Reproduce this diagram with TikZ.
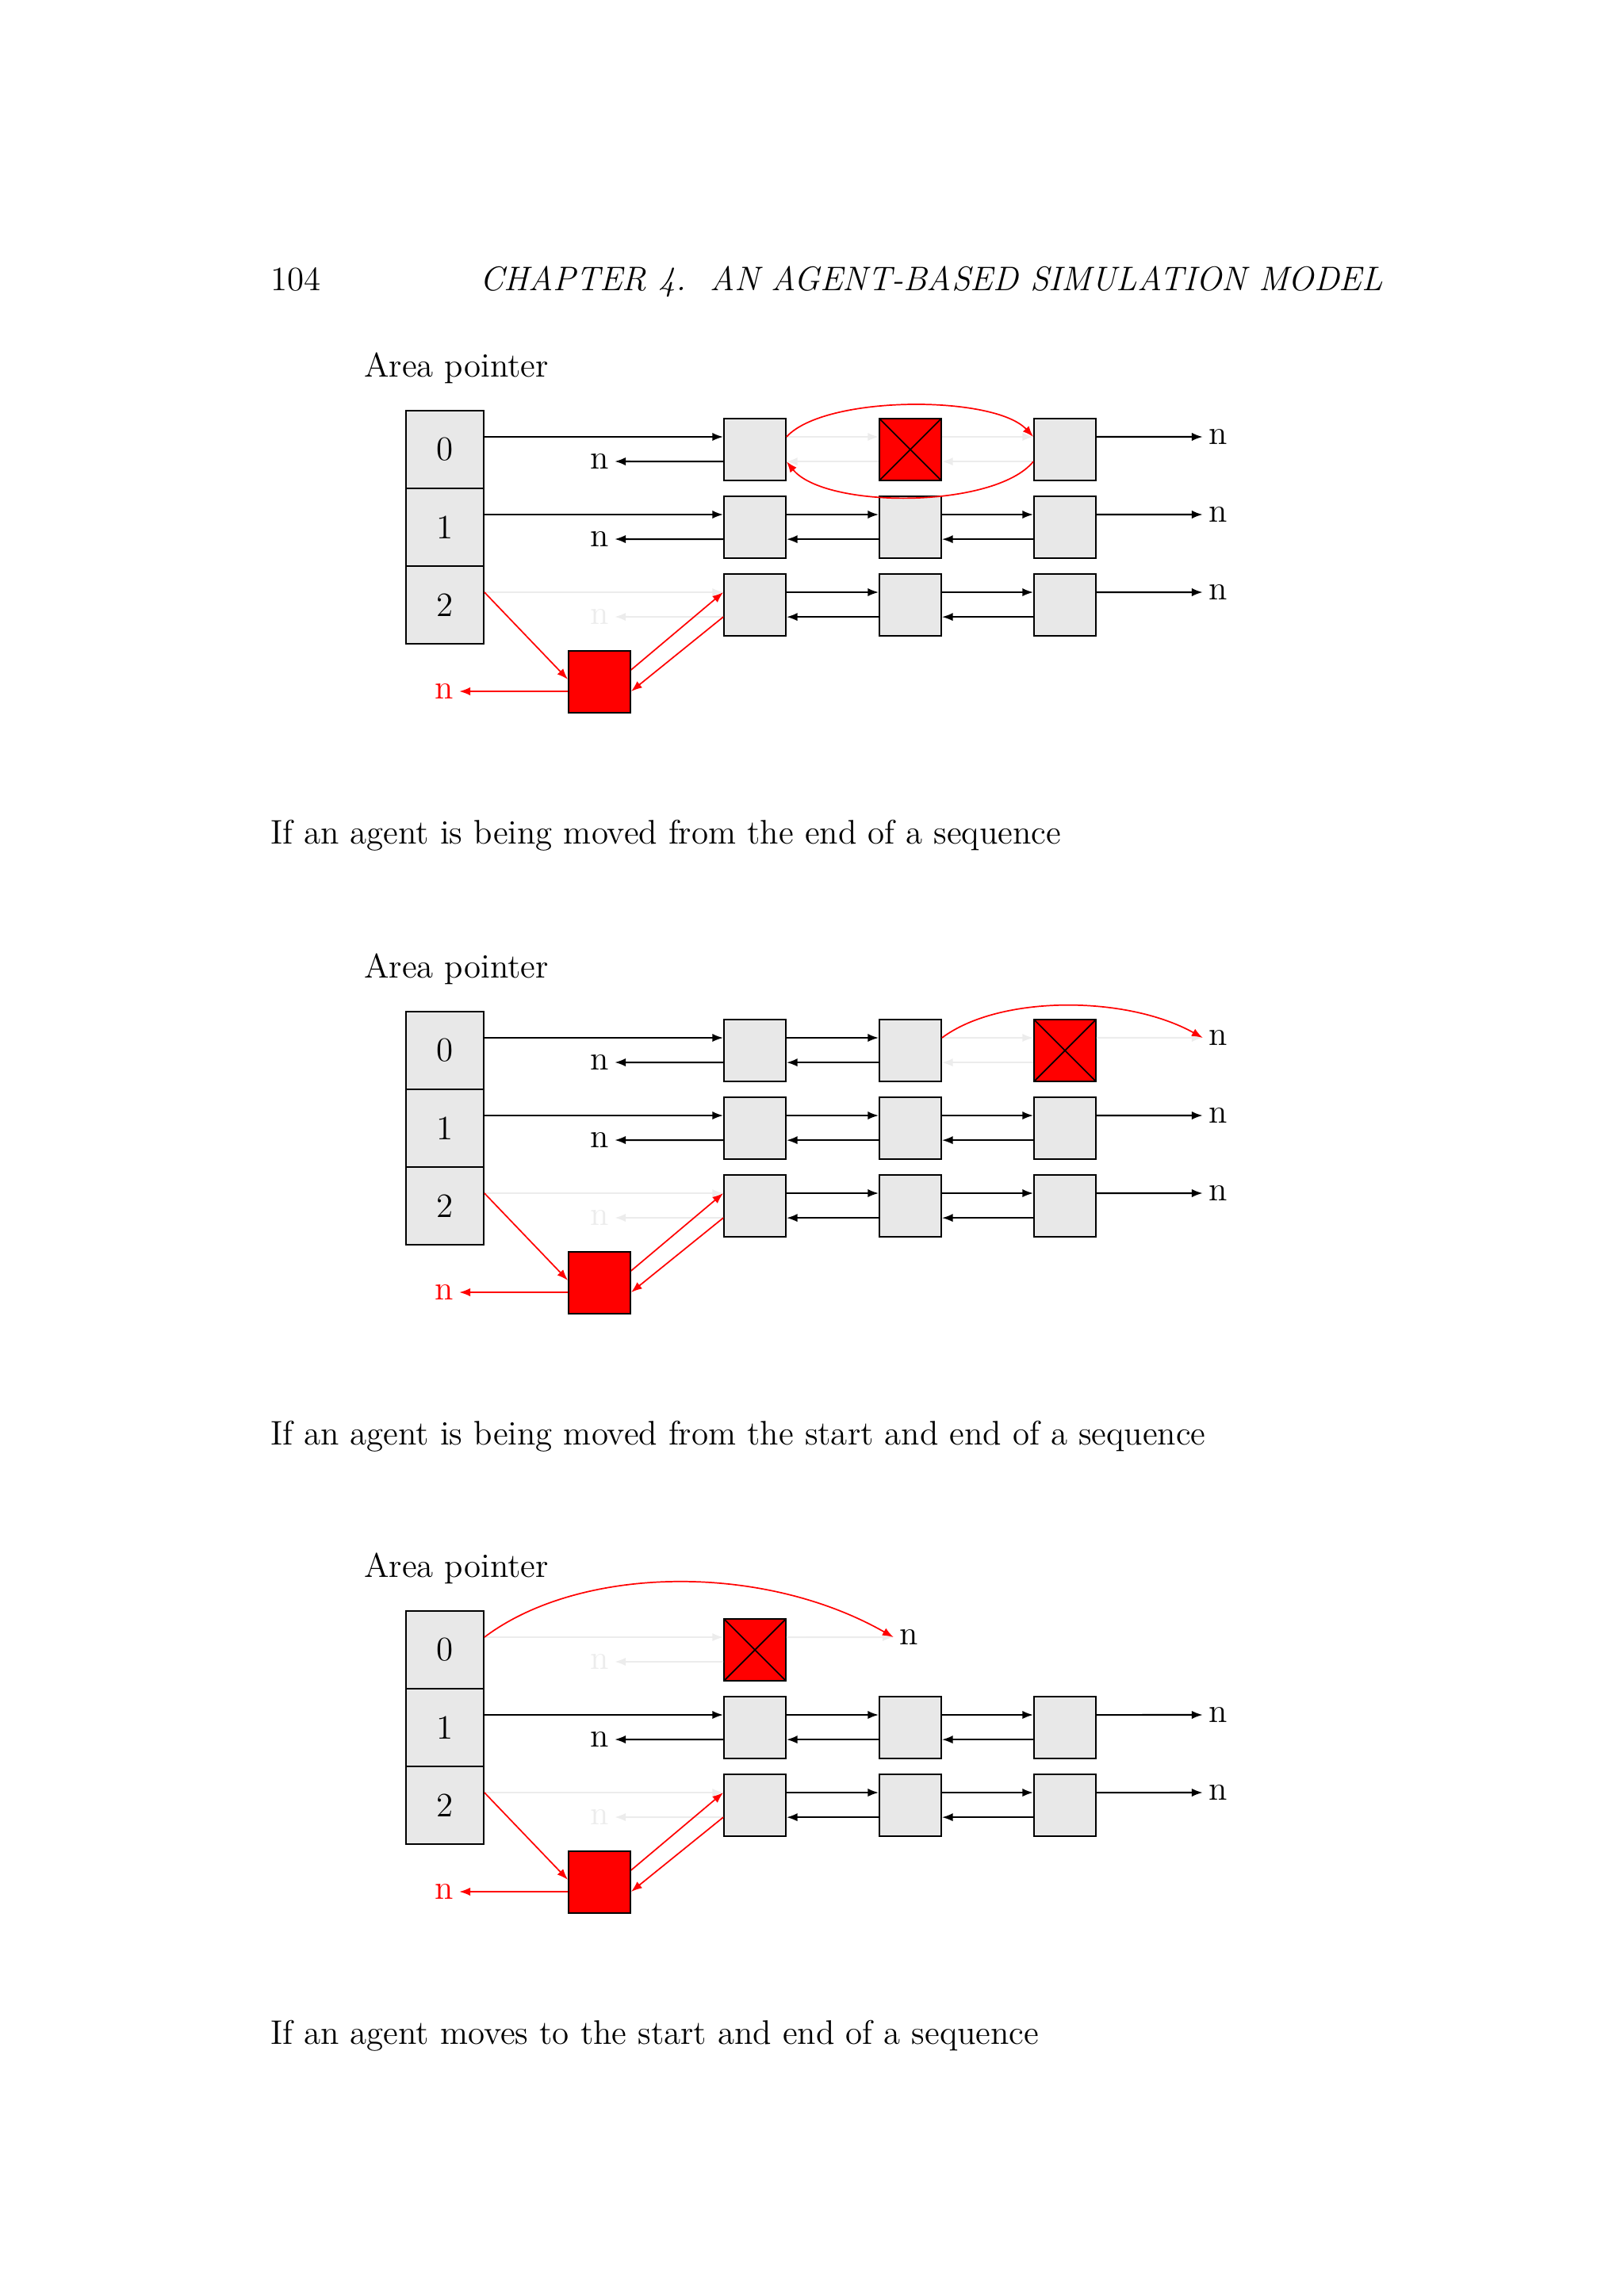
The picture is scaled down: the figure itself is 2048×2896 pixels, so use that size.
\documentclass[tikz,border=0pt]{standalone}
\usetikzlibrary{arrows.meta}
\begin{document}
\begin{tikzpicture}[x=0.2907pt,y=-0.2907pt,
  every node/.style={font=\fontsize{12.5pt}{15pt}\selectfont},
  cell/.style={draw,fill=gray!18,minimum width=28.5pt,minimum height=28.5pt,inner sep=0pt,line width=0.5pt},
  seq/.style={draw,fill=gray!18,minimum size=22.7pt,inner sep=0pt,line width=0.5pt},
  dead/.style={seq,fill=red,path picture={\draw[line width=0.5pt] (path picture bounding box.north west)--(path picture bounding box.south east) (path picture bounding box.north east)--(path picture bounding box.south west);}},
  rbox/.style={draw,fill=red,minimum size=22.7pt,inner sep=0pt,line width=0.5pt},
  lab/.style={inner sep=2pt},
  ptr/.style={-{Latex[length=4pt,width=3pt]},line width=0.6pt},
  faded/.style={ptr,draw=gray!15},
  rptr/.style={-{Latex[length=4pt,width=3pt]},draw=red,line width=0.5pt},
  up/.style={yshift=4.65pt}, dn/.style={yshift=-4.4pt}]
\path[use as bounding box] (0,0) rectangle (2048,2896);
\node[anchor=base west] (pg) at (329,366) {104};
\node[anchor=base west] (hd) at (593,366) {\itshape CHAPTER 4.\ \ AN AGENT-BASED SIMULATION MODEL};

\foreach \d/\dy/\cap in {1/0/{If an agent is being moved from the end of a sequence},
  2/758/{If an agent is being moved from the start and end of a sequence},
  3/1514/{If an agent moves to the start and end of a sequence}}{
  \node[anchor=base west] (ap\d) at (447,475+\dy) {Area pointer};
  \node[anchor=base west] (cap\d) at (329,1064+\dy) {\cap};
  \foreach \k in {0,1,2}{
    \node[cell] (a\d\k) at (561,567+98*\k+\dy) {\k};
  }
  \foreach \r in {1,2}{
    \foreach \c/\x in {1/952,2/1148,3/1343}{
      \node[seq] (s\d\r\c) at (\x,567+98*\r+\dy) {};
    }
    \node[lab] (rn\d\r) at (1536,551+98*\r+\dy) {n};
    \draw[ptr] ([up]s\d\r1.east) -- ([up]s\d\r2.west);
    \draw[ptr] ([up]s\d\r2.east) -- ([up]s\d\r3.west);
    \draw[ptr] ([dn]s\d\r3.west) -- ([dn]s\d\r2.east);
    \draw[ptr] ([dn]s\d\r2.west) -- ([dn]s\d\r1.east);
    \draw[ptr] ([up]s\d\r3.east) -- (rn\d\r.west);
  }
  % row 1
  \node[lab] (ln\d1) at (756,680+\dy) {n};
  \draw[ptr] ([up]a\d1.east) -- ([up]s\d11.west);
  \draw[ptr] ([dn]s\d11.west) -- (ln\d1.east);
  % row 2
  \node[lab,text=gray!15] (ln\d2) at (756,778+\dy) {n};
  \draw[faded] ([up]a\d2.east) -- ([up]s\d21.west);
  \draw[faded] ([dn]s\d21.west) -- (ln\d2.east);
  \node[rbox] (r\d) at (756,860+\dy) {};
  \node[lab,text=red] (rl\d) at (560,872+\dy) {n};
  \draw[rptr] ([yshift=-3.5pt]r\d.west) -- (rl\d.east);
  \draw[rptr] ([up]a\d2.east) -- ([yshift=0.9pt]r\d.west);
  \draw[rptr] ([yshift=4.4pt]r\d.east) -- ([up]s\d21.west);
  \draw[rptr] ([dn]s\d21.west) -- ([yshift=-3.5pt]r\d.east);
}

% ---- diagram 1, row 0
\node[seq] (s101) at (952,567) {};
\node[dead] (s102) at (1148,567) {};
\node[seq] (s103) at (1343,567) {};
\node[lab] (ln10) at (756,582) {n};
\node[lab] (rn10) at (1536,551) {n};
\draw[ptr] ([up]a10.east) -- ([up]s101.west);
\draw[ptr] ([dn]s101.west) -- (ln10.east);
\draw[faded] ([up]s101.east) -- ([up]s102.west);
\draw[faded] ([up]s102.east) -- ([up]s103.west);
\draw[faded] ([dn]s103.west) -- ([dn]s102.east);
\draw[faded] ([dn]s102.west) -- ([dn]s101.east);
\draw[ptr] ([up]s103.east) -- (rn10.west);
\draw[rptr] ([up]s101.east) .. controls (1040,498) and (1254,498) .. ([up]s103.west);
\draw[rptr] ([dn]s103.west) .. controls (1254,642) and (1040,642) .. ([dn]s101.east);

% ---- diagram 2, row 0
\node[seq] (s201) at (952,1325) {};
\node[seq] (s202) at (1148,1325) {};
\node[dead] (s203) at (1343,1325) {};
\node[lab] (ln20) at (756,1340) {n};
\node[lab] (rn20) at (1536,1309) {n};
\draw[ptr] ([up]a20.east) -- ([up]s201.west);
\draw[ptr] ([dn]s201.west) -- (ln20.east);
\draw[ptr] ([up]s201.east) -- ([up]s202.west);
\draw[ptr] ([dn]s202.west) -- ([dn]s201.east);
\draw[faded] ([up]s202.east) -- ([up]s203.west);
\draw[faded] ([dn]s203.west) -- ([dn]s202.east);
\draw[faded] ([up]s203.east) -- (rn20.west);
\draw[rptr] ([up]s202.east) .. controls (1260,1255) and (1420,1255) .. (rn20.west);

% ---- diagram 3, row 0
\node[dead] (s301) at (952,2081) {};
\node[lab,text=gray!15] (ln30) at (756,2096) {n};
\node[lab] (rn30) at (1146,2065) {n};
\draw[faded] ([up]a30.east) -- ([up]s301.west);
\draw[faded] ([dn]s301.west) -- (ln30.east);
\draw[faded] ([up]s301.east) -- (rn30.west);
\draw[rptr] ([up]a30.east) .. controls (730,1975) and (960,1970) .. (rn30.west);
\end{tikzpicture}
\end{document}
